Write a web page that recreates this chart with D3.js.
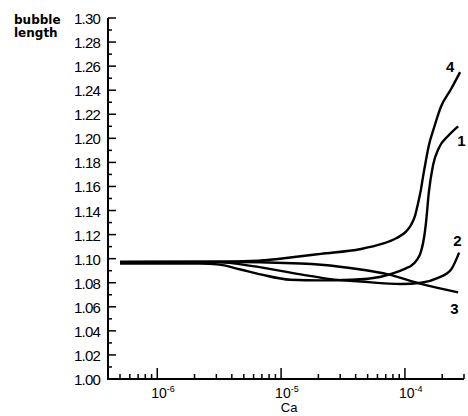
<!DOCTYPE html>
<html>
<head>
<meta charset="UTF-8">
<script src="https://d3js.org/d3.v7.min.js"></script>
<style>
  body { margin: 0; background: #fff; }
  text { font-family: "Liberation Sans", Arial, sans-serif; fill: #000; }
</style>
</head>
<body>
<svg id="chart"></svg>
<script>
// capillary number (Ca) vs bubble length, curves 1-4
var curve1 = [[5e-7,1.096],[2.2e-6,1.096],[3.2e-6,1.095],[4.7e-6,1.091],[6.8e-6,1.087],[1.19e-5,1.0825],
  [2.1e-5,1.082],[3.7e-5,1.0825],[6.4e-5,1.085],[8.1e-5,1.088],[1.02e-4,1.092],[1.12e-4,1.094],
  [1.25e-4,1.099],[1.35e-4,1.106],[1.43e-4,1.118],[1.48e-4,1.13],[1.56e-4,1.155],[1.69e-4,1.178],
  [1.88e-4,1.192],[2.23e-4,1.202],[2.69e-4,1.21]];
var curve2 = [[5e-7,1.097],[3.2e-6,1.097],[5.7e-6,1.094],[1.44e-5,1.087],[2.5e-5,1.083],[4.4e-5,1.081],
  [9.3e-5,1.079],[1.35e-4,1.080],[1.85e-4,1.084],[2.36e-4,1.091],[2.74e-4,1.105]];
var curve3 = [[5e-7,1.097],[3.2e-6,1.0975],[1.44e-5,1.096],[2.1e-5,1.095],[4.4e-5,1.091],[7.3e-5,1.087],
  [1.35e-4,1.079],[2.69e-4,1.072]];
var curve4 = [[5e-7,1.0975],[3.2e-6,1.0975],[5.7e-6,1.098],[1.44e-5,1.102],[2.1e-5,1.104],[4.4e-5,1.108],
  [6.4e-5,1.112],[8.5e-5,1.117],[1.02e-4,1.1225],[1.12e-4,1.128],[1.21e-4,1.136],[1.27e-4,1.145],
  [1.35e-4,1.158],[1.40e-4,1.168],[1.48e-4,1.182],[1.56e-4,1.194],[1.72e-4,1.209],[1.95e-4,1.226],
  [2.36e-4,1.241],[2.79e-4,1.255]];
var curveNames = ["1", "2", "3", "4"];
var xMajor = [1e-6, 1e-5, 1e-4];
var xExponents = ["-6", "-5", "-4"];
var yLabels = ["1.00","1.02","1.04","1.06","1.08","1.10","1.12","1.14","1.16","1.18","1.20","1.22","1.24","1.26","1.28","1.30"];

var width = 468, height = 416;
var svg = d3.select("#chart").attr("width", width).attr("height", height);

var x = d3.scaleLog().domain([4e-7, 3e-4]).range([108, 464]);
var y = d3.scaleLinear().domain([1.0, 1.3]).range([379, 18]);

// axes (ticks pointing inward)
var ax = svg.append("g").attr("stroke", "#000").attr("fill", "none");
ax.append("line").attr("x1", x.range()[0]).attr("x2", x.range()[1]).attr("y1", y(1)).attr("y2", y(1)).attr("stroke-width", 2);
ax.append("line").attr("x1", x.range()[0]).attr("x2", x.range()[0]).attr("y1", y(1) + 1).attr("y2", y(1.3)).attr("stroke-width", 2);

// x ticks: decades long, 2..9 short
x.ticks().forEach(function(t) {
  var major = xMajor.some(function(m) { return Math.abs(m - t) / m < 1e-6; });
  ax.append("line").attr("x1", x(t)).attr("x2", x(t)).attr("y1", y(1)).attr("y2", y(1) - (major ? 11 : 5))
    .attr("stroke-width", 1.5);
});

// y ticks: every 0.01, labelled every 0.02
d3.range(0, 31).forEach(function(i) {
  var v = 1 + i * 0.01;
  var major = i % 2 === 0;
  ax.append("line").attr("x1", x.range()[0]).attr("x2", x.range()[0] + (major ? 8 : 4))
    .attr("y1", y(v)).attr("y2", y(v)).attr("stroke-width", 1.5);
});

svg.selectAll(".ylab").data(yLabels).enter().append("text")
  .attr("class", "ylab")
  .attr("x", 100).attr("y", function(d) { return y(+d) + 6; })
  .attr("text-anchor", "end").style("font-size", "15px").style("letter-spacing", "-0.8px")
  .text(function(d) { return d; });

xMajor.forEach(function(m, i) {
  var t = svg.append("text").attr("x", x(m) - 6).attr("y", 398).style("font-size", "14px");
  t.append("tspan").text("10");
  t.append("tspan").attr("dy", -6).style("font-size", "9px").text(xExponents[i]);
});

svg.append("text").attr("x", x(1e-5) + 8).attr("y", 412).attr("text-anchor", "middle")
  .style("font-size", "13px").text("Ca");

svg.append("text").attr("x", 14).attr("y", 24).style("font-size", "12px").style("font-weight", "bold")
  .style("font-family", "DejaVu Sans").text("bubble");
svg.append("text").attr("x", 14).attr("y", 37).style("font-size", "12px").style("font-weight", "bold")
  .style("font-family", "DejaVu Sans").text("length");

// curves
var line = d3.line().x(function(d) { return x(d[0]); }).y(function(d) { return y(d[1]); })
  .curve(d3.curveMonotoneX);
var series = [curve1, curve2, curve3, curve4];
svg.selectAll(".curve").data(series).enter().append("path")
  .attr("class", "curve").attr("d", line)
  .attr("fill", "none").attr("stroke", "#000").attr("stroke-width", 2.4);

// curve labels next to end points
var labelOffsets = [[-1, 20], [-6, -7], [-8, 22], [-14, 0]];
series.forEach(function(s, i) {
  var last = s[s.length - 1];
  svg.append("text").attr("x", x(last[0]) + labelOffsets[i][0]).attr("y", y(last[1]) + labelOffsets[i][1])
    .style("font-size", "15px").style("font-weight", "bold").text(curveNames[i]);
});
</script>
</body>
</html>
